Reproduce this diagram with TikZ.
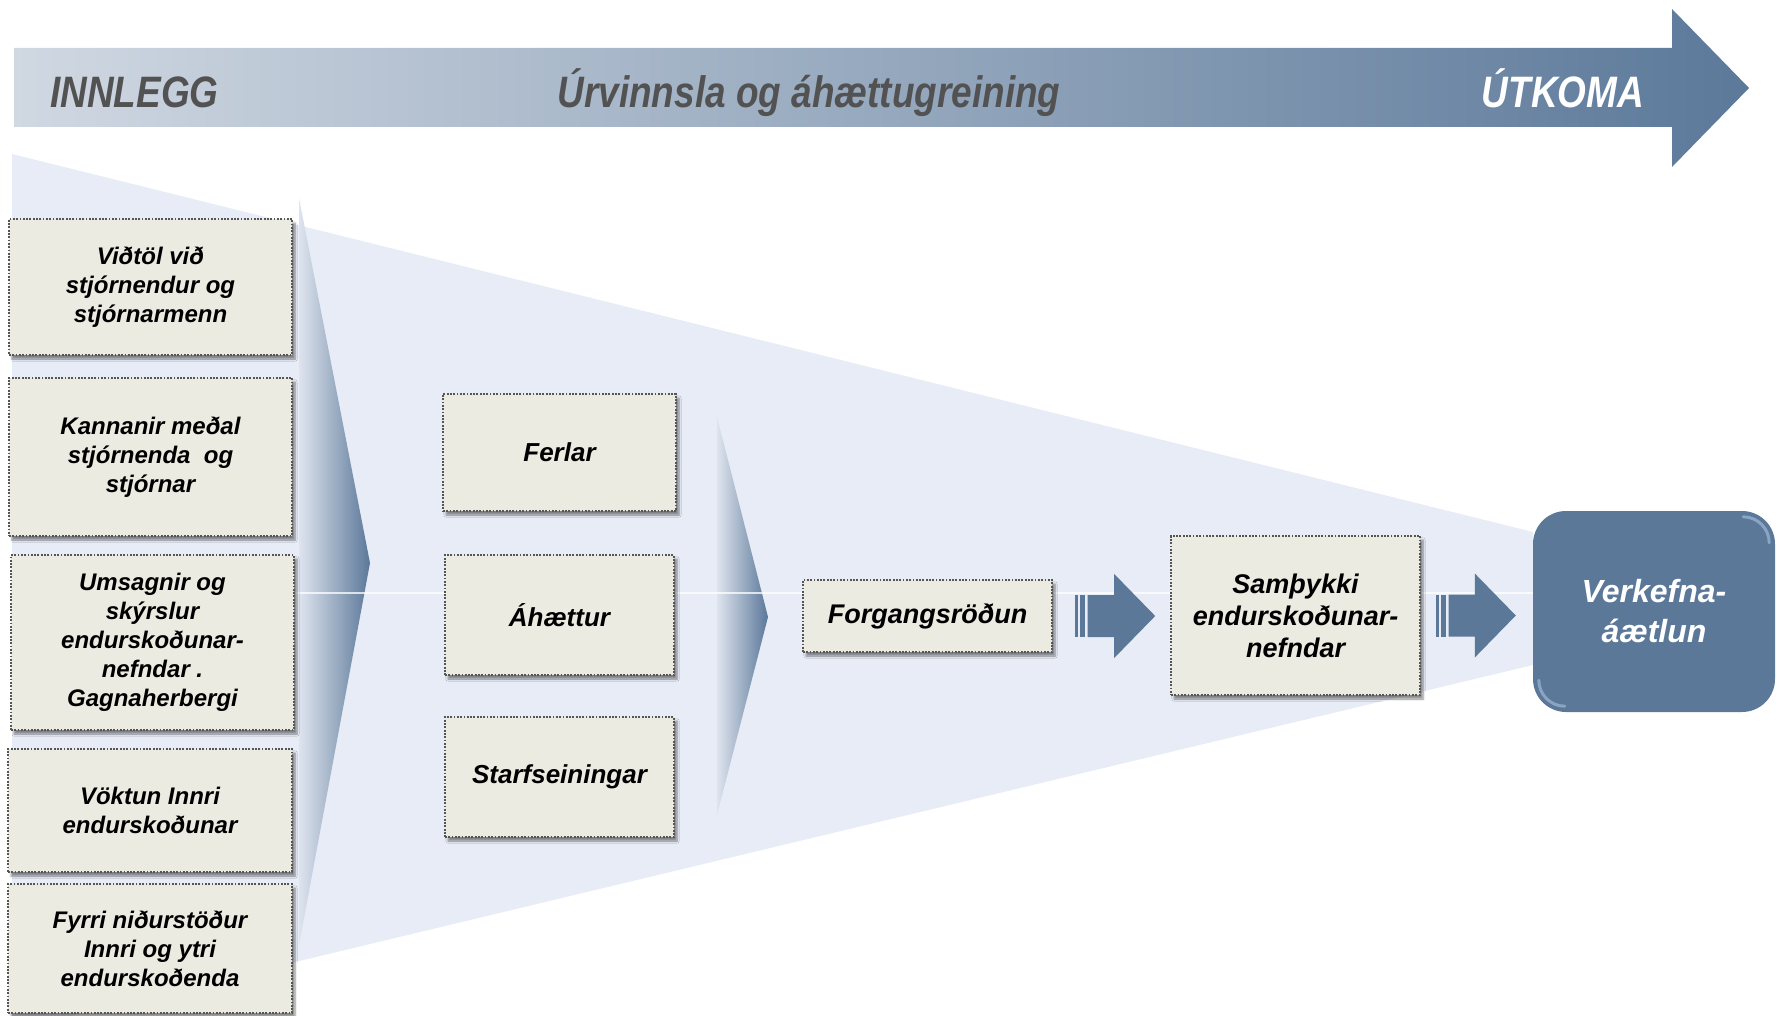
\documentclass[tikz,border=0pt]{standalone}
\usepackage{fontspec}
\setmainfont{Liberation Sans}
\newfontfamily\titlefont[FakeStretch=0.84]{Liberation Sans}
\usetikzlibrary{shadows,shadows.blur,calc}
\definecolor{funnel}{RGB}{232,236,246}
\definecolor{cream}{RGB}{236,235,225}
\definecolor{steel}{RGB}{91,120,153}
\definecolor{arrL}{RGB}{208,216,226}
\definecolor{arrR}{RGB}{92,121,154}
\definecolor{chevL}{RGB}{222,228,238}
\definecolor{titlegray}{RGB}{82,82,82}
\definecolor{dotc}{RGB}{85,85,85}
\definecolor{glint}{RGB}{170,195,225}
\newcommand\blockarr[2]{%
  \fill[steel] ($(#1)+(0,-21)$) rectangle ($(#1)+(2.7,21)$);
  \fill[steel] ($(#1)+(4.7,-21)$) rectangle ($(#1)+(10,21)$);
  \fill[steel] ($(#1)+(12.7,-21)$) -- ($(#2)+(-41,-21)$) -- ($(#2)+(-41,-42)$) -- (#2)
     -- ($(#2)+(-41,42)$) -- ($(#2)+(-41,21)$) -- ($(#1)+(12.7,21)$) -- cycle;}
\begin{document}
\begin{tikzpicture}[x=1pt,y=-1pt,
  boxst/.style={draw=dotc, line width=1.6pt, dash pattern=on 1.8pt off 1.5pt,
    fill=cream, inner sep=0pt, align=center,
    font=\bfseries\itshape\fontsize{26}{29}\selectfont,
    blur shadow={shadow xshift=3pt, shadow yshift=-4pt, shadow opacity=45, shadow blur steps=6}},
  inbox/.style={boxst, font=\bfseries\itshape\fontsize{24}{29}\selectfont},
  bigbox/.style={boxst, font=\bfseries\itshape\fontsize{27}{32}\selectfont},
  titlest/.style={inner sep=0pt, font=\titlefont\bfseries\itshape\fontsize{44}{48}\selectfont},
  goalst/.style={fill=steel, rounded corners=33pt, inner sep=0pt, align=center, text=white,
    font=\bfseries\itshape\fontsize{32}{40}\selectfont}]
\useasboundingbox (0,0) rectangle (1781,1016);
\clip (0,0) rectangle (1781,1016);
% funnel
\fill[funnel] (12,154) -- (1533,532) -- (1533,665) -- (70,1016) -- (12,1016) -- cycle;
% top arrow
\shade[left color=arrL, right color=arrR] (14,48) -- (1672,48) -- (1672,9) -- (1749,88)
  -- (1672,167) -- (1672,127) -- (14,127) -- cycle;
\node[titlest, anchor=base west, text=titlegray] (tin) at (50,108) {INNLEGG};
\node[titlest, anchor=base, text=titlegray] (tmid) at (809,108) {Úrvinnsla og áhættugreining};
\node[titlest, anchor=base, text=white] (tout) at (1563,108) {ÚTKOMA};
% chevrons
\shade[left color=chevL, right color=steel] (299,198) -- (370,563) -- (299,945) -- cycle;
\shade[left color=chevL, right color=steel] (717,417) -- (768,617) -- (717,815) -- cycle;
% centre line
\draw[white, line width=1.5pt, opacity=0.75] (12,593) -- (1533,593);
% input boxes
\node[inbox, minimum width=283, minimum height=136] (in1) at (150.5,287) {Viðtöl við\\stjórnendur og\\stjórnarmenn};
\node[inbox, minimum width=283, minimum height=158] (in2) at (150.5,457) {Kannanir meðal\\stjórnenda\ \ og\\stjórnar};
\node[inbox, minimum width=283, minimum height=175] (in3) at (152.5,642.5) {Umsagnir og\\skýrslur\\endurskoðunar-\\nefndar .\\Gagnaherbergi};
\node[inbox, minimum width=284, minimum height=123] (in4) at (150,810.5) {Vöktun Innri\\endurskoðunar};
\node[inbox, minimum width=284, minimum height=129] (in5) at (150,948.5) {Fyrri niðurstöður\\Innri og ytri\\endurskoðenda};
% middle boxes
\node[boxst, minimum width=233, minimum height=117] (ferl) at (559.5,452.5) {Ferlar};
\node[boxst, minimum width=229, minimum height=120] (ahaet) at (559.5,615) {Áhættur};
\node[boxst, minimum width=229, minimum height=120] (starf) at (559.5,777) {Starfseiningar};
% process
\node[bigbox, minimum width=249, minimum height=72, text depth=5pt] (forg) at (927.5,616) {Forgangsröðun};
\node[bigbox, minimum width=249, minimum height=159] (samth) at (1295.5,615.5) {Samþykki\\endurskoðunar-\\nefndar};
\node[goalst, minimum width=242, minimum height=201] (verk) at (1654,611.5) {Verkefna-\\áætlun};
% glossy highlights inside the corners
\draw[glint, opacity=0.6, line width=3pt, line cap=round] ($(verk.north east)+(-32,6)$) arc[start angle=-90, end angle=0, radius=26];
\draw[glint, opacity=0.6, line width=3pt, line cap=round] ($(verk.south west)+(32,-6)$) arc[start angle=90, end angle=180, radius=26];
% connectors
\coordinate (a1s) at ($(forg.east)+(22,0)$);
\coordinate (a1e) at ($(samth.west |- forg.east)+(-15,0)$);
\coordinate (a2s) at ($(samth.east)+(15,0)$);
\coordinate (a2e) at ($(verk.west |- samth.east)+(-17,0)$);
\blockarr{a1s}{a1e}
\blockarr{a2s}{a2e}
\end{tikzpicture}
\end{document}
